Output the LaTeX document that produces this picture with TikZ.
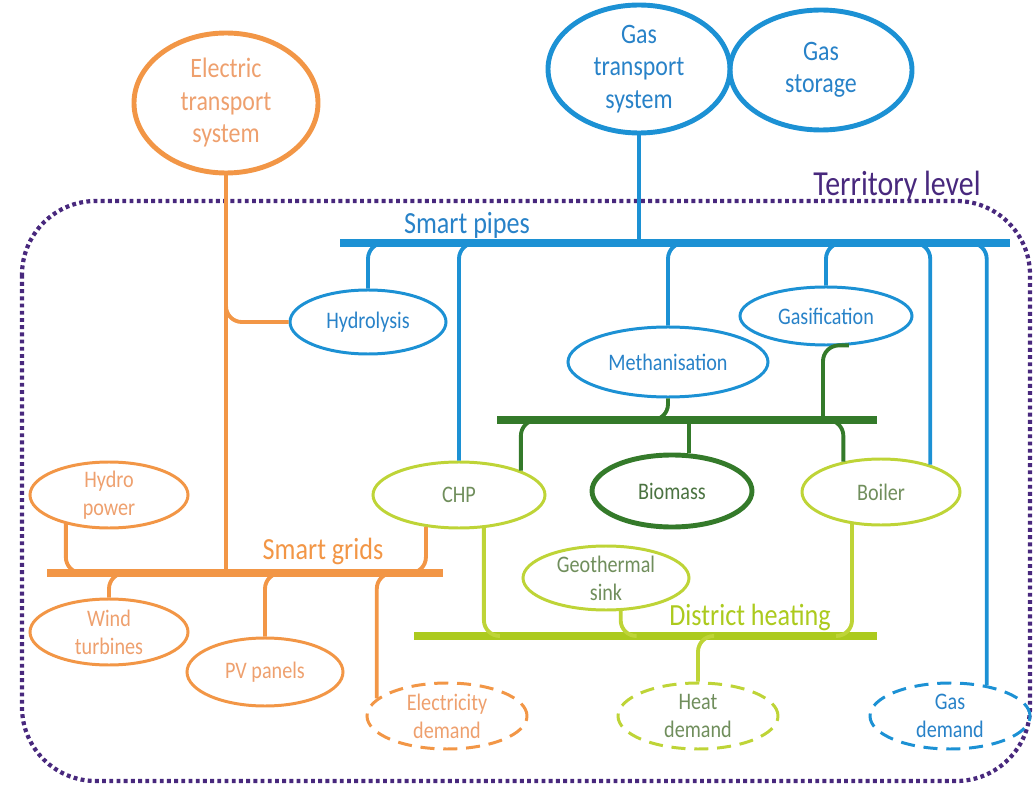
\documentclass[tikz,border=0pt]{standalone}
\usepackage{fontspec}
\setmainfont{Carlito}[FakeStretch=0.85]
\usetikzlibrary{shapes.geometric,calc}

\definecolor{elec}{RGB}{242,150,70}
\definecolor{electext}{RGB}{238,160,110}
\definecolor{gas}{RGB}{28,145,212}
\definecolor{gastext}{RGB}{40,130,200}
\definecolor{bio}{RGB}{52,122,42}
\definecolor{biotext}{RGB}{75,115,65}
\definecolor{heat}{RGB}{190,212,55}
\definecolor{heatbar}{RGB}{172,202,30}
\definecolor{heattext}{RGB}{112,142,92}
\definecolor{terr}{RGB}{72,40,125}

\tikzset{
  blob/.style 2 args={ellipse, draw, line width=1.7pt, inner sep=0pt,
    minimum width=#1*0.02cm, minimum height=#2*0.02cm},
  thickblob/.style={line width=2.8pt},
  demand/.style={dash pattern=on 8pt off 5pt},
  txt/.style={align=center, inner sep=0pt, font=\fontsize{13.5}{16}\selectfont},
  bigtxt/.style={align=center, inner sep=0pt, font=\fontsize{16}{18.5}\selectfont},
  bar/.style={line width=4.5pt},
  link/.style={line width=2.2pt, rounded corners=9pt},
  tag/.style={inner sep=0pt, font=\fontsize{17.5}{20}\selectfont},
}

\begin{document}
\begin{tikzpicture}[x=0.02cm, y=-0.02cm]
\useasboundingbox (0,0) rectangle (1035,787);

% Territory level
\draw[terr, line width=2.4pt, dash pattern=on 2.2pt off 1.9pt, rounded corners=42pt] (22,201) rectangle (1030,781);
\node[inner sep=0pt, terr, font=\fontsize{20}{22}\selectfont] (terrlbl) at (897,186) {Territory level};

% Bars
\coordinate (spW) at (340,243); \coordinate (spE) at (1010,243);
\coordinate (bmW) at (497,420); \coordinate (bmE) at (877,420);
\coordinate (sgW) at (47,573);  \coordinate (sgE) at (443,573);
\coordinate (dhW) at (414,636); \coordinate (dhE) at (877,636);
\draw[gas, bar] (spW) -- (spE);
\draw[bio, bar] (bmW) -- (bmE);
\draw[elec, bar] (sgW) -- (sgE);
\draw[heatbar, bar] (dhW) -- (dhE);
\node[tag, gastext] (splbl) at (467,225) {Smart pipes};
\node[tag, elec] (sglbl) at (323,551) {Smart grids};
\node[tag, heatbar] (dhlbl) at (750,617) {District heating};

% Transport systems
\node[blob={184}{140}, thickblob, elec, label={[bigtxt, text=electext]center:Electric\\transport\\system}] (ets) at (226,103) {};
\node[blob={182}{128}, thickblob, gas, label={[bigtxt, text=gastext]center:Gas\\transport\\system}] (gts) at (639,69) {};
\node[blob={182}{120}, thickblob, gas, label={[bigtxt, text=gastext]center:Gas\\storage}] (gst) at (821,70) {};

% Gas side
\node[blob={156}{64}, gas, label={[txt, text=gastext]center:Hydrolysis}] (hyd) at (368,322) {};
\node[blob={200}{70}, gas, label={[txt, text=gastext]center:Methanisation}] (meth) at (668,362) {};
\node[blob={172}{58}, gas, label={[txt, text=gastext]center:Gasification}] (gasif) at (826,316) {};
\node[blob={160}{66}, gas, demand, label={[txt, text=gastext]center:Gas\\demand}] (gd) at (950,716) {};

% Heat side
\node[blob={160}{72}, thickblob, bio, label={[txt, text=biotext]center:Biomass}] (bio) at (672,491) {};
\node[blob={172}{66}, heat, label={[txt, text=heattext]center:CHP}] (chp) at (459,495) {};
\node[blob={158}{66}, heat, label={[txt, text=heattext]center:Boiler}] (boil) at (881,492) {};
\node[blob={166}{64}, heat, label={[txt, text=heattext]center:Geothermal\\sink}] (geo) at (606,578) {};
\node[blob={160}{66}, heat, demand, label={[txt, text=heattext]center:Heat\\demand}] (hd) at (698,716) {};

% Electric side
\node[blob={158}{66}, elec, label={[txt, text=electext]center:Hydro\\power}] (hydro) at (109,495) {};
\node[blob={158}{66}, elec, label={[txt, text=electext]center:Wind\\turbines}] (wind) at (109,632) {};
\node[blob={156}{68}, elec, label={[txt, text=electext]center:PV panels}] (pv) at (265,672) {};
\node[blob={160}{66}, elec, demand, label={[txt, text=electext]center:Electricity\\demand}] (ed) at (447,716) {};

% Gas links
\draw[gas, link] (gts.south) -- (gts.south |- spW);
\draw[gas, link] (hyd.north) |- ($(hyd.north |- spW)+(16,0)$);
\draw[gas, link] (chp.north) |- ($(chp.north |- spW)+(18,0)$);
\draw[gas, link] (meth.north) |- ($(meth.north |- spW)+(16,0)$);
\draw[gas, link] (gasif.north) |- ($(gasif.north |- spW)+(12,0)$);
\draw[gas, link] (boil.29) |- ($(boil.29 |- spW)+(-18,0)$);
\draw[gas, link] (gd.40) |- ($(gd.40 |- spW)+(-16,0)$);

% Biomass links
\draw[bio, link] (meth.south) |- ($(meth.south |- bmW)+(-14,0)$);
\draw[bio, link] (gasif.-52) -| ($(gasif.-52 |- bmW)+(-26,0)$);
\draw[bio, link] (bio.66) -- (bio.66 |- bmW);
\draw[bio, link] (chp.north east) |- ($(chp.north east |- bmW)+(18,0)$);
\draw[bio, link] (boil.141) |- ($(boil.141 |- bmW)+(-18,0)$);

% District heating links
\draw[heat, link] (chp.-53) |- ($(chp.-53 |- dhW)+(16,0)$);
\draw[heat, link] (boil.-132) |- ($(boil.-132 |- dhW)+(-16,0)$);
\draw[heat, link] (geo.-66) |- ($(geo.-66 |- dhW)+(16,0)$);
\draw[heat, link] (hd.north) |- ($(hd.north |- dhW)+(16,0)$);

% Electric links
\draw[elec, link] (ets.south) -- (ets.south |- sgW);
\draw[elec, link] (ets.south |- hyd.north) |- (hyd.west);
\draw[elec, link] (hydro.-146) |- ($(hydro.-146 |- sgW)+(16,0)$);
\draw[elec, link] (chp.-136) |- ($(chp.-136 |- sgW)+(-16,0)$);
\draw[elec, link] (wind.north) |- ($(wind.north |- sgW)+(12,0)$);
\draw[elec, link] (pv.north) |- ($(pv.north |- sgW)+(16,0)$);
\draw[elec, link] (ed.166) |- ($(ed.166 |- sgW)+(16,0)$);
\end{tikzpicture}
\end{document}
